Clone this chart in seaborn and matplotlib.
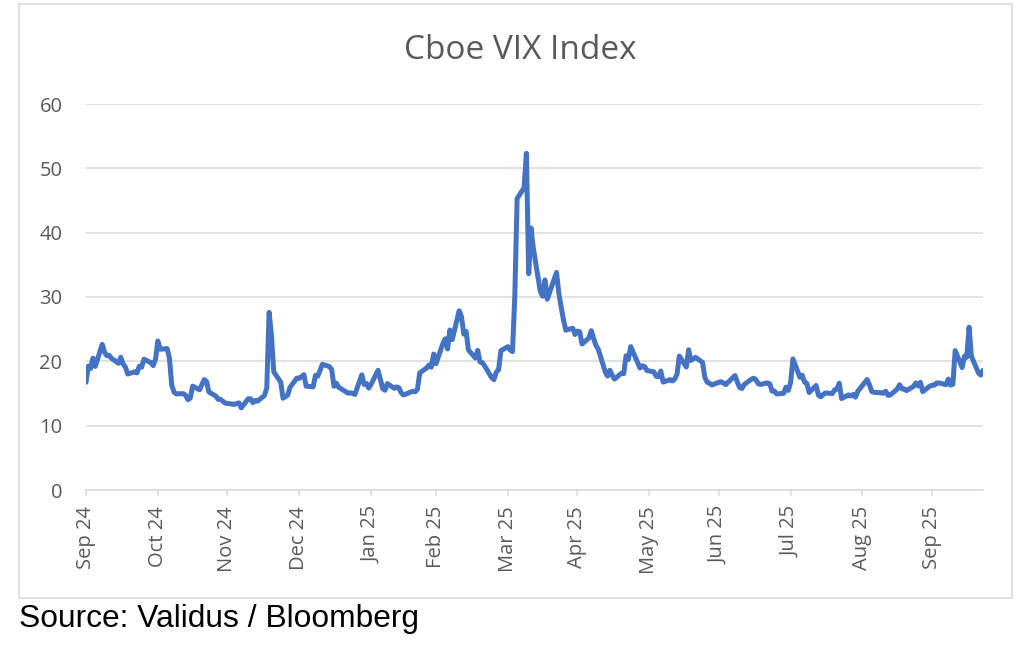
import matplotlib
matplotlib.use("Agg")
import matplotlib.pyplot as plt
import pandas as pd
import seaborn as sns
from matplotlib.patches import Rectangle

# ---------------- data ----------------
dates = [
    "2024-09-30",
    "2024-10-01", "2024-10-02", "2024-10-03", "2024-10-04", "2024-10-07", "2024-10-08", "2024-10-09",
    "2024-10-10", "2024-10-11", "2024-10-14", "2024-10-15", "2024-10-16", "2024-10-17", "2024-10-18",
    "2024-10-21", "2024-10-22", "2024-10-23", "2024-10-24", "2024-10-25", "2024-10-28", "2024-10-29",
    "2024-10-30", "2024-10-31",
    "2024-11-01", "2024-11-04", "2024-11-05", "2024-11-06", "2024-11-07", "2024-11-08", "2024-11-11",
    "2024-11-12", "2024-11-13", "2024-11-14", "2024-11-15", "2024-11-18", "2024-11-19", "2024-11-20",
    "2024-11-21", "2024-11-22", "2024-11-25", "2024-11-26", "2024-11-27", "2024-11-29",
    "2024-12-02", "2024-12-03", "2024-12-04", "2024-12-05", "2024-12-06", "2024-12-09", "2024-12-10",
    "2024-12-11", "2024-12-12", "2024-12-13", "2024-12-16", "2024-12-17", "2024-12-18", "2024-12-19",
    "2024-12-20", "2024-12-23", "2024-12-24", "2024-12-26", "2024-12-27", "2024-12-30", "2024-12-31",
    "2025-01-02", "2025-01-03", "2025-01-06", "2025-01-07", "2025-01-08", "2025-01-10", "2025-01-13",
    "2025-01-14", "2025-01-15", "2025-01-16", "2025-01-17", "2025-01-21", "2025-01-22", "2025-01-23",
    "2025-01-24", "2025-01-27", "2025-01-28", "2025-01-29", "2025-01-30", "2025-01-31",
    "2025-02-03", "2025-02-04", "2025-02-05", "2025-02-06", "2025-02-07", "2025-02-10", "2025-02-11",
    "2025-02-12", "2025-02-13", "2025-02-14", "2025-02-18", "2025-02-19", "2025-02-20", "2025-02-21",
    "2025-02-24", "2025-02-25", "2025-02-26", "2025-02-27", "2025-02-28",
    "2025-03-03", "2025-03-04", "2025-03-05", "2025-03-06", "2025-03-07", "2025-03-10", "2025-03-11",
    "2025-03-12", "2025-03-13", "2025-03-14", "2025-03-17", "2025-03-18", "2025-03-19", "2025-03-20",
    "2025-03-21", "2025-03-24", "2025-03-25", "2025-03-26", "2025-03-27", "2025-03-28", "2025-03-31",
    "2025-04-01", "2025-04-02", "2025-04-03", "2025-04-04", "2025-04-07", "2025-04-08", "2025-04-09",
    "2025-04-10", "2025-04-11", "2025-04-14", "2025-04-15", "2025-04-16", "2025-04-17", "2025-04-21",
    "2025-04-22", "2025-04-23", "2025-04-24", "2025-04-25", "2025-04-28", "2025-04-29", "2025-04-30",
    "2025-05-01", "2025-05-02", "2025-05-05", "2025-05-06", "2025-05-07", "2025-05-08", "2025-05-09",
    "2025-05-12", "2025-05-13", "2025-05-14", "2025-05-15", "2025-05-16", "2025-05-19", "2025-05-20",
    "2025-05-21", "2025-05-22", "2025-05-23", "2025-05-27", "2025-05-28", "2025-05-29", "2025-05-30",
    "2025-06-02", "2025-06-03", "2025-06-04", "2025-06-05", "2025-06-06", "2025-06-09", "2025-06-10",
    "2025-06-11", "2025-06-12", "2025-06-13", "2025-06-16", "2025-06-17", "2025-06-18", "2025-06-20",
    "2025-06-23", "2025-06-24", "2025-06-25", "2025-06-26", "2025-06-27", "2025-06-30",
    "2025-07-01", "2025-07-02", "2025-07-03", "2025-07-07", "2025-07-08", "2025-07-09", "2025-07-10",
    "2025-07-11", "2025-07-14", "2025-07-15", "2025-07-16", "2025-07-17", "2025-07-18", "2025-07-21",
    "2025-07-22", "2025-07-23", "2025-07-24", "2025-07-25", "2025-07-28", "2025-07-29", "2025-07-30",
    "2025-07-31",
    "2025-08-01", "2025-08-04", "2025-08-05", "2025-08-06", "2025-08-07", "2025-08-08", "2025-08-11",
    "2025-08-12", "2025-08-13", "2025-08-14", "2025-08-15", "2025-08-18", "2025-08-19", "2025-08-20",
    "2025-08-21", "2025-08-22", "2025-08-25", "2025-08-26", "2025-08-27", "2025-08-28", "2025-08-29",
    "2025-09-02", "2025-09-03", "2025-09-04", "2025-09-05", "2025-09-08", "2025-09-09", "2025-09-10",
    "2025-09-11", "2025-09-12", "2025-09-15", "2025-09-16", "2025-09-17", "2025-09-18", "2025-09-19",
    "2025-09-22", "2025-09-23", "2025-09-24", "2025-09-25", "2025-09-26", "2025-09-29", "2025-09-30",
    "2025-10-01", "2025-10-02", "2025-10-03", "2025-10-06", "2025-10-07", "2025-10-08", "2025-10-09",
    "2025-10-10", "2025-10-13", "2025-10-14", "2025-10-15", "2025-10-16", "2025-10-17", "2025-10-20",
    "2025-10-21", "2025-10-22",
]

vix = [
    16.73,
    19.26, 18.90, 20.49, 19.21, 22.64, 21.42, 20.86,
    20.93, 20.46, 19.70, 20.64, 19.58, 19.11, 18.03,
    18.37, 18.20, 19.24, 19.08, 20.33, 19.80, 19.34,
    20.35, 23.16,
    21.88, 21.98, 20.49, 16.27, 15.20, 14.94, 14.97,
    14.71, 14.02, 14.31, 16.14, 15.58, 16.35, 17.16,
    16.87, 15.24, 14.60, 14.10, 14.10, 13.51,
    13.34, 13.30, 13.45, 13.54, 12.77, 14.19, 14.18,
    13.58, 13.92, 13.81, 14.69, 15.87, 27.62, 24.09,
    18.36, 16.78, 14.27, 14.73, 15.95, 17.40, 17.35,
    17.93, 16.13, 16.04, 17.82, 17.70, 19.54, 19.19,
    18.71, 16.12, 16.60, 15.97, 15.06, 15.10, 15.02,
    14.85, 17.90, 16.41, 16.56, 15.84, 16.43,
    18.62, 17.21, 15.77, 15.50, 16.54, 15.81, 16.02,
    15.89, 15.10, 14.77, 15.35, 15.27, 15.66, 18.21,
    18.98, 19.43, 19.10, 21.13, 19.63,
    22.78, 23.51, 21.93, 24.87, 23.37, 27.86, 26.92,
    24.23, 24.66, 21.77, 20.51, 21.70, 19.90, 19.80,
    19.28, 17.48, 17.15, 18.33, 18.69, 21.65, 22.28,
    21.77, 21.51, 30.02, 45.31, 46.98, 52.33, 33.62,
    40.72, 37.56, 30.89, 30.12, 32.64, 29.65, 33.82,
    30.57, 28.45, 26.47, 24.84, 25.15, 24.17, 24.70,
    24.60, 22.68, 23.64, 24.76, 23.55, 22.48, 21.90,
    18.39, 17.72, 18.62, 17.83, 17.24, 18.14, 18.09,
    20.87, 20.28, 22.29, 18.96, 19.31, 19.18, 18.57,
    18.36, 17.69, 17.61, 18.48, 16.77, 17.16, 16.95,
    17.26, 18.02, 20.82, 19.11, 21.80, 20.14, 20.62,
    19.83, 17.48, 16.76, 16.59, 16.32, 16.73,
    16.83, 16.64, 16.38, 17.79, 16.81, 15.94, 15.78,
    16.40, 17.20, 17.38, 17.16, 16.52, 16.41, 16.65,
    16.50, 15.37, 15.39, 14.93, 15.03, 15.98, 15.48,
    16.72,
    20.38, 17.52, 17.85, 16.77, 16.57, 15.15, 16.25,
    14.73, 14.49, 14.83, 15.09, 14.99, 15.57, 15.69,
    16.60, 14.22, 14.79, 14.62, 14.85, 14.43, 15.36,
    17.17, 16.35, 15.30, 15.18, 15.11, 15.04, 15.35,
    14.71, 14.76, 15.69, 16.36, 15.72, 15.70, 15.45,
    16.10, 16.64, 16.18, 16.74, 15.29, 16.12, 16.28,
    16.29, 16.63, 16.65, 16.37, 17.24, 16.30, 16.43,
    21.66, 19.03, 20.81, 20.64, 25.31, 20.78, 18.23,
    17.87, 18.60,
]

tick_dates = ["2024-09-30", "2024-10-31", "2024-11-30", "2024-12-31", "2025-01-31",
              "2025-02-28", "2025-03-31", "2025-04-30", "2025-05-31", "2025-06-30",
              "2025-07-31", "2025-08-31", "2025-09-30"]
tick_labels = ["Sep 24", "Oct 24", "Nov 24", "Dec 24", "Jan 25", "Feb 25", "Mar 25",
               "Apr 25", "May 25", "Jun 25", "Jul 25", "Aug 25", "Sep 25"]
y_ticks = [0, 10, 20, 30, 40, 50, 60]
x_start, x_end = "2024-09-30", "2025-10-22"

title_text = "Cboe VIX Index"
source_text = "Source: Validus / Bloomberg"

# ---------------- styling ----------------
sns.set_theme(style="white")
plt.rcParams["font.family"] = ["Open Sans", "DejaVu Sans"]

W, H = 1032, 656
fig = plt.figure(figsize=(W / 100, H / 100), dpi=100)
fig.patch.set_facecolor("white")

left, right, top, bottom = 86, 983, 104, 490
ax = fig.add_axes([left / W, 1 - bottom / H, (right - left) / W, (bottom - top) / H])

df = pd.DataFrame({"date": pd.to_datetime(dates), "VIX": vix})
sns.lineplot(data=df, x="date", y="VIX", ax=ax, color="#4472C4", linewidth=3.6,
             solid_joinstyle="round", solid_capstyle="round")

ax.set_xlim(pd.Timestamp(x_start), pd.Timestamp(x_end))
ax.set_ylim(0, 60)
ax.set_yticks(y_ticks)
ax.set_yticklabels([str(v) for v in y_ticks])
ax.set_xticks(pd.to_datetime(tick_dates))
ax.set_xticklabels(tick_labels, rotation=90)
ax.set_xlabel("")
ax.set_ylabel("")

grid_c = "#d9d9d9"
text_c = "#595959"
ax.yaxis.grid(True, color=grid_c, linewidth=1.1)
ax.xaxis.grid(False)
ax.set_axisbelow(True)
for s in ["top", "right", "left"]:
    ax.spines[s].set_visible(False)
ax.spines["bottom"].set_color(grid_c)
ax.spines["bottom"].set_linewidth(1.1)

ax.tick_params(axis="y", length=0, pad=17, labelsize=14.5, labelcolor=text_c)
ax.tick_params(axis="x", length=4.5, width=1.1, color=grid_c, direction="out",
               pad=7, labelsize=14.5, labelcolor=text_c, bottom=True)

fig.text(520 / W, 1 - 59 / H, title_text, ha="center", va="baseline",
         fontsize=24, color=text_c, family=["Open Sans", "DejaVu Sans"])

fig.text(19 / W, 1 - 627 / H, source_text, ha="left", va="baseline",
         fontsize=22.9, color="black", family=["Liberation Sans", "DejaVu Sans"])

fig.patches.append(Rectangle((19 / W, 1 - 598 / H), (1012 - 19) / W, (598 - 4) / H,
                             transform=fig.transFigure, fill=False,
                             edgecolor=grid_c, linewidth=1.1))

fig.savefig("out.png", dpi=100, facecolor="white")
